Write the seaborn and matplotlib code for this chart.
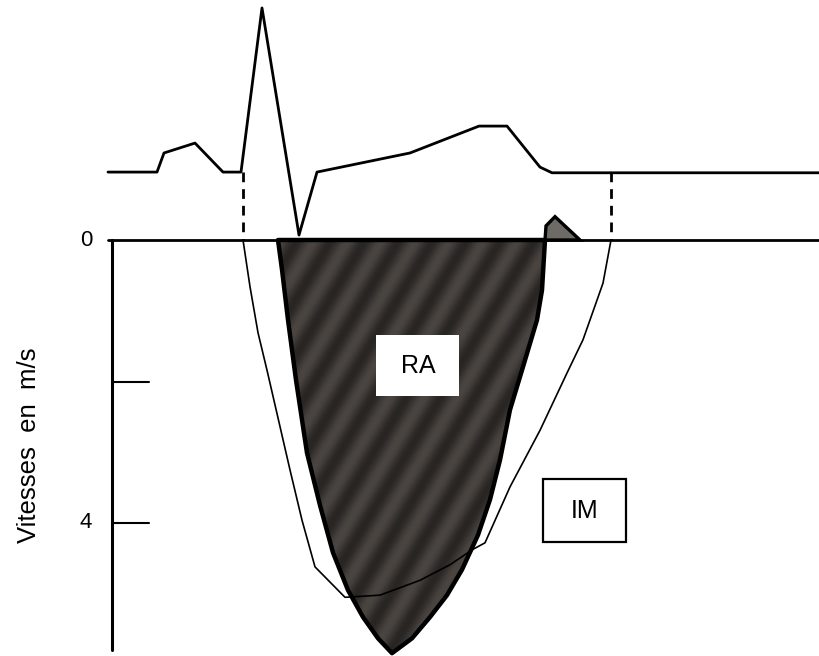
import numpy as np
import matplotlib
matplotlib.use("Agg")
import matplotlib.pyplot as plt
from matplotlib.patches import Polygon, Rectangle
import seaborn as sns

# time axis is in arbitrary units (no ticks on the original), velocities in m/s
# velocities grow downwards, the ECG trace sits above the zero line

# ECG trace
ecg_t = [108, 157, 164, 195, 223, 241, 262, 299, 317, 410, 479, 507, 540, 552, 819]
ecg_v = [-0.96, -0.96, -1.23, -1.37, -0.96, -0.96, -3.28, -0.07, -0.96, -1.23,
         -1.61, -1.61, -1.03, -0.95, -0.95]

# mitral regurgitation envelope (IM, thin line)
im_t = [243, 250, 258, 267, 290, 302, 315, 345, 380, 420, 450, 472, 485,
        510, 540, 567, 583, 603, 611]
im_v = [0.0, 0.66, 1.31, 1.84, 3.25, 3.96, 4.62, 5.05, 5.02, 4.81, 4.59, 4.38,
        4.28, 3.49, 2.69, 1.88, 1.41, 0.61, 0.0]

# aortic stenosis envelope (RA, filled)
ra_t = [278, 282, 288, 296, 307, 320, 333, 348, 363, 378, 392,
        412, 430, 447, 462, 478, 490, 500, 510, 522, 537, 542, 545]
ra_v = [0.0, 0.42, 1.13, 1.98, 3.01, 3.75, 4.42, 4.95, 5.33, 5.63, 5.84,
        5.63, 5.33, 5.02, 4.66, 4.17, 3.67, 3.11, 2.40, 1.84, 1.13, 0.71, 0.0]

# small reversed flow after the jet
rev_t = [545, 546, 555, 580]
rev_v = [0.0, -0.20, -0.33, 0.0]

# timing markers (dashed verticals from ECG baseline to zero)
mark_t = [243, 611]
mark_v_top = -0.96

y_ticks = [2, 4]
y_ticklabels = {0: "0", 4: "4"}
y_label = "Vitesses  en  m/s"

sns.set_theme(style="white")
plt.rcParams["font.family"] = ["Liberation Sans", "DejaVu Sans"]
plt.rcParams["text.color"] = "black"

fig = plt.figure(figsize=(8.19, 6.56), dpi=100)
ax = fig.add_axes([0, 0, 1, 1])

# striped texture for RA, clipped to the envelope
tt = np.linspace(260, 570, 400)
vv = np.linspace(-0.2, 6.0, 500)
T, V = np.meshgrid(tt, vv)
phase = (T + 0.6 * V * 70.75) / 34.0
tex = 0.5 + 0.5 * np.sin(2 * np.pi * phase)
img = ax.imshow(tex, extent=[tt[0], tt[-1], vv[0], vv[-1]], origin="lower",
                aspect="auto", cmap=sns.blend_palette(["#292523", "#4a4541"], as_cmap=True),
                zorder=1, interpolation="bilinear")
ra_poly = Polygon(np.column_stack([ra_t, ra_v]), closed=True, facecolor="none",
                  edgecolor="black", lw=3.2, joinstyle="round", zorder=3)
ax.add_patch(ra_poly)
img.set_clip_path(ra_poly)

rev_poly = Polygon(np.column_stack([rev_t, rev_v]), closed=True, facecolor="#6e6a66",
                   edgecolor="black", lw=2.4, zorder=3)
ax.add_patch(rev_poly)

# lines
sns.lineplot(x=ecg_t, y=ecg_v, sort=False, estimator=None, color="black", lw=2.0, ax=ax, zorder=4)
sns.lineplot(x=im_t, y=im_v, sort=False, estimator=None, color="black", lw=1.2, ax=ax, zorder=4)
ax.plot([108, 819], [0, 0], color="black", lw=2.0, zorder=4)
for t in mark_t:
    ax.plot([t, t], [mark_v_top, 0], color="black", lw=2.0, ls=(0, (3.5, 2.5)), zorder=4)

# velocity axis
ax.plot([112, 112], [0, 5.8], color="black", lw=2.2, zorder=4)
for yt in y_ticks:
    ax.plot([112, 149], [yt, yt], color="black", lw=1.5, zorder=4)
for yt, lab in y_ticklabels.items():
    ax.text(86, yt, lab, ha="center", va="center", fontsize=16, color="black")
ax.text(29, 2.90, y_label, rotation=90, ha="center", va="center", fontsize=18.5, color="black")

# labels
ax.add_patch(Rectangle((376, 1.34), 83, 0.86, facecolor="white", edgecolor="none", zorder=5))
ax.text(418, 1.78, "RA", ha="center", va="center", fontsize=18, color="black", zorder=6)
ax.add_patch(Rectangle((543, 3.38), 83, 0.89, facecolor="white", edgecolor="black", lw=1.6, zorder=5))
ax.text(585, 3.83, "IM", ha="center", va="center", fontsize=18, color="black", zorder=6)

ax.set_xlim(0, 819)
ax.set_ylim((656 - 240) / 70.75, -240 / 70.75)
ax.axis("off")

fig.savefig("out.png", dpi=100)
